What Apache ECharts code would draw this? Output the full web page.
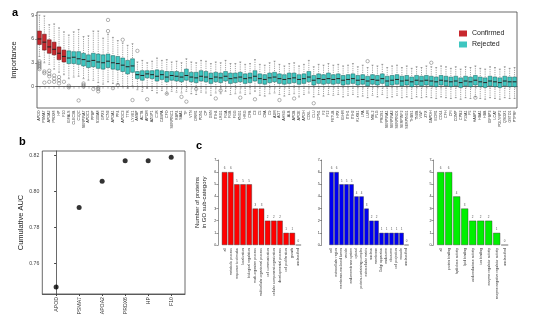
<!DOCTYPE html>
<html><head><meta charset="utf-8">
<script src="https://cdn.jsdelivr.net/npm/echarts@6/dist/echarts.min.js"></script>
<style>html,body{margin:0;padding:0;background:#fff}#c{width:546px;height:324px}</style>
</head><body><div id="c"></div>
<script>
// ---------- Panel a: feature importance boxplots ----------
const genes = ["APOD","PSMA7","APOA2","PRDX6","HP","F10","IGFALS","CLEC3B","C1QC","SERPINA7","APOC1","PPBP","S100A8","GPX3","FCN3","APOA1","PF4","APOC3","TTR","LYVE1",
"AMBP","ACTB","APOM","AZGP1","C1R","C4BPA","CFD","SERPINC1","RBP4","SAA1","TF","VTN","ORM1","PON1","CP","GSN","ITIH4","LRG1","FGA","FGB",
"FGG","KNG1","HRG","CFB","C3","C5","C8A","C9","A2M","AGT","AHSG","ALB","APOB","APOE","APOH","CD5L","CLU","CPN1","F2","F12",
"FETUB","HPX","IGHM","ITIH1","ITIH2","KLKB1","LPA","LUM","MBL2","PLG","PROS1","SERPINA1","SERPINA3","SERPIND1","SERPINF2","SERPING1","THBS1","TNXB","VWF","ZYX",
"GAPDH","ECM1","CD14","CFH","CFI","COMP","CPB2","F13A1","F5","HABP2","HBA1","HBB","IGFBP3","LCAT","PGLYRP2","QSOX1","GSTO1","PTPRF"];
const confirmedCount = 6;
const lowW = [3.8,3.0,2.8,2.2,1.8,1.5,1.0,1.2,1.3,1.0,0.8,0.8,0.5,0.3,0.6,0.4,0.3,0.0,-0.2,0.1,
-0.4,-0.6,-0.2,-0.5,-0.8,-0.5,-0.9,-0.6,-0.7,-0.8,-0.6,-0.9,-1.0,-0.7,-0.8,-1.1,-0.8,-0.9,-0.6,-1.0,
-0.9,-0.8,-1.0,-0.9,-0.6,-1.1,-1.2,-0.9,-0.8,-1.0,-1.2,-1.0,-0.9,-1.3,-1.0,-0.8,-1.3,-1.0,-1.2,-1.0,
-1.1,-1.0,-1.3,-1.1,-1.0,-1.3,-1.2,-1.4,-1.1,-1.3,-1.0,-1.4,-1.3,-1.1,-1.4,-1.3,-1.5,-1.3,-1.4,-1.3,
-1.4,-1.5,-1.3,-1.4,-1.5,-1.4,-1.6,-1.4,-1.5,-1.3,-1.5,-1.6,-1.4,-1.5,-1.6,-1.4,-1.5,-1.5];
const q1 = [5.3,4.6,4.2,4.0,3.4,3.1,2.9,2.9,2.8,2.6,2.4,2.5,2.3,2.2,2.4,2.2,2.1,1.9,1.6,1.8,
1.0,0.8,1.1,1.0,0.7,0.9,0.6,0.8,0.7,0.6,0.8,0.6,0.5,0.7,0.6,0.4,0.6,0.5,0.7,0.4,
0.5,0.6,0.4,0.5,0.7,0.4,0.3,0.5,0.6,0.4,0.3,0.4,0.5,0.3,0.4,0.6,0.2,0.4,0.3,0.4,
0.3,0.4,0.2,0.3,0.4,0.2,0.3,0.1,0.3,0.2,0.4,0.1,0.2,0.3,0.1,0.2,0.0,0.2,0.1,0.2,
0.1,0.0,0.2,0.1,0.0,0.1,-0.1,0.1,0.0,0.2,0.0,-0.1,0.1,0.0,-0.1,0.1,0.0,0.0];
const median = [6.0,5.6,5.0,4.7,4.2,3.8,3.6,3.7,3.5,3.4,3.2,3.3,3.1,3.0,3.2,3.0,2.9,2.7,2.5,2.6,
1.5,1.4,1.6,1.5,1.3,1.5,1.2,1.4,1.3,1.2,1.4,1.2,1.1,1.3,1.2,1.0,1.2,1.1,1.3,1.0,
1.1,1.2,1.0,1.1,1.3,1.0,0.9,1.1,1.2,1.0,0.9,1.0,1.1,0.9,1.0,1.2,0.8,1.0,0.9,1.0,
0.9,1.0,0.8,0.9,1.0,0.8,0.9,0.7,0.9,0.8,1.0,0.7,0.8,0.9,0.7,0.8,0.6,0.8,0.7,0.8,
0.7,0.6,0.8,0.7,0.6,0.7,0.5,0.7,0.6,0.8,0.6,0.5,0.7,0.6,0.5,0.7,0.6,0.6];
const q3 = [7.0,6.6,5.9,5.6,5.0,4.6,4.5,4.4,4.4,4.2,4.0,4.2,4.1,4.0,4.1,3.9,3.8,3.6,3.3,3.5,
1.9,2.0,2.0,2.0,2.1,2.0,1.9,1.9,1.9,1.8,2.2,1.8,1.8,2.0,1.9,1.7,1.8,1.7,1.9,1.7,
1.7,1.8,1.6,1.7,2.0,1.6,1.5,1.7,1.8,1.6,1.5,1.7,1.7,1.5,1.6,1.9,1.4,1.6,1.5,1.7,
1.5,1.6,1.4,1.5,1.6,1.4,1.5,1.3,1.5,1.4,1.6,1.3,1.4,1.5,1.3,1.4,1.2,1.4,1.3,1.4,
1.3,1.2,1.4,1.3,1.2,1.3,1.1,1.3,1.2,1.4,1.2,1.1,1.3,1.2,1.1,1.3,1.2,1.2];
const highW = [9.0,8.9,7.8,7.9,7.4,6.9,6.5,6.9,7.2,6.3,6.4,7.0,7.0,6.1,6.6,6.2,5.8,5.5,5.2,5.4,
3.1,3.3,3.0,3.2,3.6,3.3,3.4,3.1,3.2,3.0,3.5,3.1,3.0,3.3,3.2,2.9,3.1,3.0,3.3,2.9,
2.9,3.1,2.8,2.9,3.4,2.8,2.7,3.0,3.2,2.8,2.6,2.9,3.0,2.6,2.8,3.3,2.5,2.8,2.7,2.9,
2.7,2.8,2.6,2.7,2.9,2.5,2.7,2.4,2.7,2.6,2.8,2.4,2.6,2.7,2.4,2.6,2.3,2.5,2.4,2.6,
2.5,2.4,2.6,2.5,2.3,2.5,2.2,2.5,2.4,2.6,2.3,2.2,2.5,2.4,2.2,2.5,2.3,2.4];
const outliers = [[0,3.2],[0,3.0],[0,2.8],[0,2.6],[0,2.4],[0,2.2],[1,1.9],[1,1.7],[1,0.5],[2,2.0],[2,1.6],[2,1.3],[2,0.6],
[3,1.4],[3,1.0],[3,0.6],[4,1.2],[4,0.8],[4,0.4],[5,0.6],[6,0.1],[6,-0.1],[8,-1.75],[9,0.4],[9,0.2],[9,0.0],[11,-0.3],
[12,-0.6],[12,-0.3],[12,-0.1],[14,8.4],[14,7.0],[15,-0.2],[16,0.2],[17,5.9],[19,-1.7],[20,4.5],[22,-1.6],[26,-0.9],
[29,-1.3],[30,-1.9],[32,-0.3],[36,-1.5],[37,-0.5],[41,-1.4],[44,-1.6],[49,-1.7],[52,-1.5],[56,-2.1],[67,3.2],[80,3.0],[89,-1.4]];
const impTicks = [0,3,6,9];

// ---------- Panel b: cumulative AUC ----------
const aucGenes = ["APOD","PSMA7","APOA2","PRDX6","HP","F10"];
const aucValues = [0.7468,0.791,0.8056,0.817,0.817,0.8189];
const aucTicks = [0.76,0.78,0.80,0.82];

// ---------- Panel c: GO sub-categories ----------
const bpCats = ["all","metabolic process","response to stimulus","localization","biological regulation","multi-organism process","multicellular organismal process","cell communication","cellular component organization","developmental process","cell proliferation","growth","unclassified"];
const bpVals = [6,6,5,5,5,3,3,2,2,2,1,1,0];
const ccCats = ["cell","extracellular region","membrane-enclosed lumen","vesicle","endomembrane system","cytosol","protein-containing complex","extracellular matrix","nucleus","membrane","Golgi apparatus","endosome","ribosome","cell projection","vacuole","unclassified"];
const ccVals = [6,6,5,5,5,4,4,3,2,2,1,1,1,1,1,0];
const mfCats = ["all","protein binding","hydrolase activity","lipid binding","oxidoreductase activity","ion binding","enzyme regulator activity","enzyme negative regulator activity","unclassified"];
const mfVals = [6,6,4,3,2,2,2,1,0];

const FONT = "Liberation Sans, Arial, sans-serif";
const chart = echarts.init(document.getElementById('c'), null, {renderer:'canvas'});

const boxRows = genes.map((g,i)=>[i, lowW[i], q1[i], median[i], q3[i], highW[i]]);
function renderBox(params, api){
  const x = api.value(0);
  const pLo = api.coord([x, api.value(1)]);
  const pQ1 = api.coord([x, api.value(2)]);
  const pMed = api.coord([x, api.value(3)]);
  const pQ3 = api.coord([x, api.value(4)]);
  const pHi = api.coord([x, api.value(5)]);
  const bw = api.size([1,0])[0]*0.78;
  const cx = pMed[0];
  const fill = api.visual('color');
  const edge = x < confirmedCount ? '#5a1012' : '#16615d';
  return {type:'group', children:[
    {type:'line', shape:{x1:cx,y1:pHi[1],x2:cx,y2:pQ3[1]}, style:{stroke:'#666',lineWidth:0.6,lineDash:[1.2,1]}},
    {type:'line', shape:{x1:cx,y1:pQ1[1],x2:cx,y2:pLo[1]}, style:{stroke:'#666',lineWidth:0.6,lineDash:[1.2,1]}},
    {type:'line', shape:{x1:cx-bw/4,y1:pHi[1],x2:cx+bw/4,y2:pHi[1]}, style:{stroke:'#555',lineWidth:0.5}},
    {type:'line', shape:{x1:cx-bw/4,y1:pLo[1],x2:cx+bw/4,y2:pLo[1]}, style:{stroke:'#555',lineWidth:0.5}},
    {type:'rect', shape:{x:cx-bw/2,y:pQ3[1],width:bw,height:pQ1[1]-pQ3[1]}, style:{fill:fill,stroke:edge,lineWidth:0.5}},
    {type:'line', shape:{x1:cx-bw/2,y1:pMed[1],x2:cx+bw/2,y2:pMed[1]}, style:{stroke:'#222',lineWidth:1}}
  ]};
}

function barAxes(cats, gridIndex, offset){
  return {
    x:{type:'category', gridIndex, data:cats, axisLine:{show:false}, axisTick:{show:false},
       axisLabel:{rotate:90, interval:0, fontSize:3.4, color:'#333', margin:3, fontFamily:FONT}},
    y:{type:'value', gridIndex, min:0, max:7, interval:1, offset, splitLine:{show:false},
       axisLine:{show:true, lineStyle:{color:'#333', width:0.5}},
       axisTick:{show:true, length:2, lineStyle:{color:'#333', width:0.5}},
       axisLabel:{fontSize:3.6, color:'#333', margin:2, fontFamily:FONT}}
  };
}
const bpAx = barAxes(bpCats, 2, 3.2);
const ccAx = barAxes(ccCats, 3, 7.3);
const mfAx = barAxes(mfCats, 4, 3.3);
bpAx.y.name = 'Number of proteins\nin GO sub-category';
bpAx.y.nameLocation = 'middle';
bpAx.y.nameGap = 10;
bpAx.y.nameTextStyle = {fontSize:6, color:'#222', fontFamily:FONT, lineHeight:7};

function barSeries(vals, xi, color){
  return {type:'bar', xAxisIndex:xi, yAxisIndex:xi, data:vals, barCategoryGap:'12%',
    itemStyle:{color, borderColor:'#333', borderWidth:0.4},
    label:{show:true, position:'top', distance:2, fontSize:3, color:'#555', fontFamily:FONT}};
}

chart.setOption({
  animation:false,
  textStyle:{fontFamily:FONT},
  grid:[
    {left:37, top:12, width:480, height:96, show:true, borderColor:'#444', borderWidth:0.8, backgroundColor:'transparent'},
    {left:42.3, top:151, width:142.7, height:143, show:true, borderColor:'#444', borderWidth:0.8},
    {left:221.5, top:160, width:80, height:85},
    {left:329, top:160, width:80, height:85},
    {left:436.7, top:160, width:72, height:85}
  ],
  legend:{left:454, top:25, orient:'vertical', itemWidth:8, itemHeight:6, itemGap:4, icon:'rect',
    textStyle:{fontSize:7, color:'#222', fontFamily:FONT}, data:['Confirmed','Rejected']},
  graphic:[
    {type:'text', left:12, top:7, style:{text:'a', font:'bold 11px '+FONT, fill:'#000'}},
    {type:'text', left:19, top:136, style:{text:'b', font:'bold 11px '+FONT, fill:'#000'}},
    {type:'text', left:196, top:140, style:{text:'c', font:'bold 11px '+FONT, fill:'#000'}}
  ],
  xAxis:[
    {type:'category', gridIndex:0, data:genes, boundaryGap:true,
      axisLine:{lineStyle:{color:'#444', width:0.8}},
      axisTick:{show:true, length:2, alignWithLabel:true, interval:0, lineStyle:{color:'#444', width:0.4}},
      axisLabel:{rotate:90, interval:0, fontSize:3.6, color:'#333', margin:2.5, fontFamily:FONT}},
    {type:'value', gridIndex:1, min:-0.6, max:5.6, splitLine:{show:false},
      axisLine:{lineStyle:{color:'#444', width:0.8}},
      axisTick:{show:true, length:2, customValues:[0,1,2,3,4,5], lineStyle:{color:'#444'}},
      axisLabel:{rotate:90, fontSize:5.2, color:'#333', margin:3, fontFamily:FONT,
        customValues:[0,1,2,3,4,5], formatter:(v)=>aucGenes[Math.round(v)]}},
    bpAx.x, ccAx.x, mfAx.x
  ],
  yAxis:[
    {type:'value', gridIndex:0, min:-2.7, max:9.4, splitLine:{show:false},
      name:'Importance', nameLocation:'middle', nameGap:19,
      nameTextStyle:{fontSize:7.5, color:'#222', fontFamily:FONT},
      axisLine:{lineStyle:{color:'#444', width:0.8}},
      axisTick:{show:true, length:2, customValues:impTicks, lineStyle:{color:'#444', width:0.5}},
      axisLabel:{fontSize:5, color:'#444', margin:3, customValues:impTicks, fontFamily:FONT}},
    {type:'value', gridIndex:1, min:0.7429, max:0.8224, splitLine:{show:false},
      name:'Cumulative AUC', nameLocation:'middle', nameGap:17,
      nameTextStyle:{fontSize:7.5, color:'#222', fontFamily:FONT},
      axisLine:{lineStyle:{color:'#444', width:0.8}},
      axisTick:{show:true, length:2, customValues:aucTicks, lineStyle:{color:'#444'}},
      axisLabel:{fontSize:5.2, color:'#444', margin:3, customValues:aucTicks, fontFamily:FONT,
        formatter:(v)=>v.toFixed(2)}},
    bpAx.y, ccAx.y, mfAx.y
  ],
  series:[
    {name:'Confirmed', type:'custom', xAxisIndex:0, yAxisIndex:0, renderItem:renderBox,
      itemStyle:{color:'#c8282e'}, encode:{x:0, y:[1,2,3,4,5]}, data:boxRows.slice(0,confirmedCount)},
    {name:'Rejected', type:'custom', xAxisIndex:0, yAxisIndex:0, renderItem:renderBox,
      itemStyle:{color:'#3ec6c0'}, encode:{x:0, y:[1,2,3,4,5]}, data:boxRows.slice(confirmedCount)},
    {type:'scatter', xAxisIndex:0, yAxisIndex:0, symbol:'circle', symbolSize:3.4, data:outliers,
      itemStyle:{color:'rgba(255,255,255,0)', borderColor:'#444', borderWidth:0.5}},
    {type:'scatter', xAxisIndex:1, yAxisIndex:1, symbolSize:5,
      data:aucValues.map((v,i)=>[i,v]), itemStyle:{color:'#000'}},
    barSeries(bpVals, 2, '#ff0000'),
    barSeries(ccVals, 3, '#0000f0'),
    barSeries(mfVals, 4, '#00f000')
  ]
});
</script></body></html>
